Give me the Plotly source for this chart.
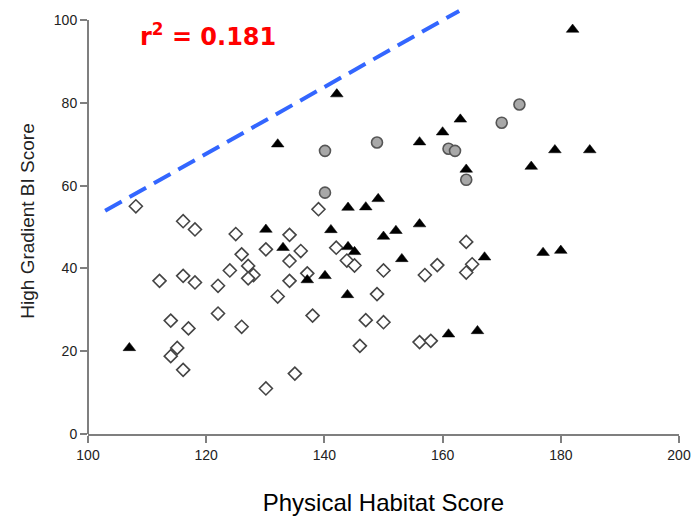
import plotly.graph_objects as go

# Open diamonds
dia_x = [108.1, 116.1, 118.1, 125.0, 139.0, 134.1, 130.1, 136.0, 126.0, 142.0, 134.1, 127.1,
         143.8, 145.1, 150.0, 124.0, 128.0, 127.1, 137.1, 134.1, 112.1, 116.1, 118.1, 122.0,
         132.1, 148.9, 122.0, 138.0, 114.0, 117.0, 126.0, 147.0, 150.0, 146.0, 115.1, 114.0,
         116.1, 135.0, 130.1, 164.0, 157.0, 159.1, 165.0, 164.0, 156.1, 158.0]
dia_y = [55.0, 51.4, 49.4, 48.3, 54.3, 48.1, 44.6, 44.2, 43.4, 45.0, 41.8, 40.6,
         41.9, 40.7, 39.5, 39.5, 38.4, 37.6, 38.8, 37.0, 37.0, 38.2, 36.6, 35.8,
         33.2, 33.8, 29.1, 28.6, 27.4, 25.5, 25.9, 27.5, 27.0, 21.3, 20.8, 18.8,
         15.5, 14.6, 11.0, 46.4, 38.4, 40.8, 41.0, 39.0, 22.2, 22.5]

# Filled triangles
tri_x = [142.1, 132.1, 144.0, 147.0, 149.1, 182.0, 163.0, 160.0, 156.1, 164.0, 179.0, 184.9,
         175.0, 130.1, 141.1, 150.0, 133.0, 144.0, 145.1, 137.1, 140.1, 143.9, 107.0, 152.1,
         156.1, 153.1, 167.1, 177.0, 180.0, 161.0, 165.9]
tri_y = [82.1, 70.0, 54.7, 54.8, 56.8, 97.7, 76.0, 72.9, 70.5, 63.9, 68.6, 68.6,
         64.6, 49.4, 49.3, 47.7, 45.0, 45.2, 44.0, 37.2, 38.2, 33.6, 20.8, 49.1,
         50.7, 42.3, 42.7, 43.8, 44.3, 24.1, 24.9]

# Grey circles
cir_x = [140.1, 148.9, 140.1, 173.0, 170.0, 161.0, 162.1, 164.0]
cir_y = [68.4, 70.4, 58.3, 79.6, 75.2, 68.9, 68.4, 61.4]

# Dashed blue line
line_x = [102.9, 162.8]
line_y = [53.9, 102.2]

x_ticks = [100, 120, 140, 160, 180, 200]
y_ticks = [0, 20, 40, 60, 80, 100]

FONT = "Arial, Liberation Sans, sans-serif"
AX = "#7f7f7f"

fig = go.Figure()
fig.add_trace(go.Scatter(x=line_x, y=line_y, mode="lines",
                         line=dict(color="#3366ff", width=4, dash="19px,9px"),
                         hoverinfo="skip", showlegend=False))
fig.add_trace(go.Scatter(x=dia_x, y=dia_y, mode="markers", showlegend=False,
                         marker=dict(symbol="diamond", size=10, color="white",
                                     line=dict(color="#444444", width=1.6))))
fig.add_trace(go.Scatter(x=cir_x, y=cir_y, mode="markers", showlegend=False,
                         marker=dict(symbol="circle", size=11, color="#a8a8a8",
                                     line=dict(color="#555555", width=1.6))))
fig.add_trace(go.Scatter(x=tri_x, y=tri_y, mode="markers", showlegend=False, cliponaxis=False,
                         marker=dict(symbol="triangle-up", size=11, color="black",
                                     line=dict(color="black", width=0.5))))

# r^2 label (pixel-equivalent paper coordinates)
fig.add_annotation(x=(138 - 88) / (679 - 88), y=(434 - 35) / (434 - 8),
                   xref="paper", yref="paper", text="r<sup>2</sup> = 0.181",
                   showarrow=False, xanchor="left", yanchor="middle",
                   font=dict(family="DejaVu Sans", size=24, color="#ff0000", weight="bold"))

# y axis line drawn only up to 100
fig.add_shape(type="line", xref="paper", yref="y", x0=0, x1=0, y0=y_ticks[0], y1=y_ticks[-1],
              line=dict(color=AX, width=2), layer="above")

fig.update_layout(
    width=693, height=519,
    margin=dict(l=88, r=14, t=8, b=85),
    paper_bgcolor="white", plot_bgcolor="white",
    font=dict(family=FONT, color="#222222"),
    xaxis=dict(range=[100, 200], tickvals=x_ticks, ticks="outside", ticklen=7,
               tickwidth=1.5, tickcolor=AX, showline=True, linecolor=AX, automargin=False,
               linewidth=2, showgrid=False, zeroline=False, tickfont=dict(size=14),
               title=dict(text="Physical Habitat Score", font=dict(size=24, color="black"),
                          standoff=32)),
    yaxis=dict(range=[0, 102.9], tickvals=y_ticks, ticks="outside", ticklen=7,
               tickwidth=1.5, tickcolor=AX, showline=False, automargin=False,
               showgrid=False, zeroline=False, tickfont=dict(size=14),
               title=dict(text="High Gradient BI Score", font=dict(size=19, color="#222222"),
                          standoff=14)),
)

fig.write_html("out.html")
